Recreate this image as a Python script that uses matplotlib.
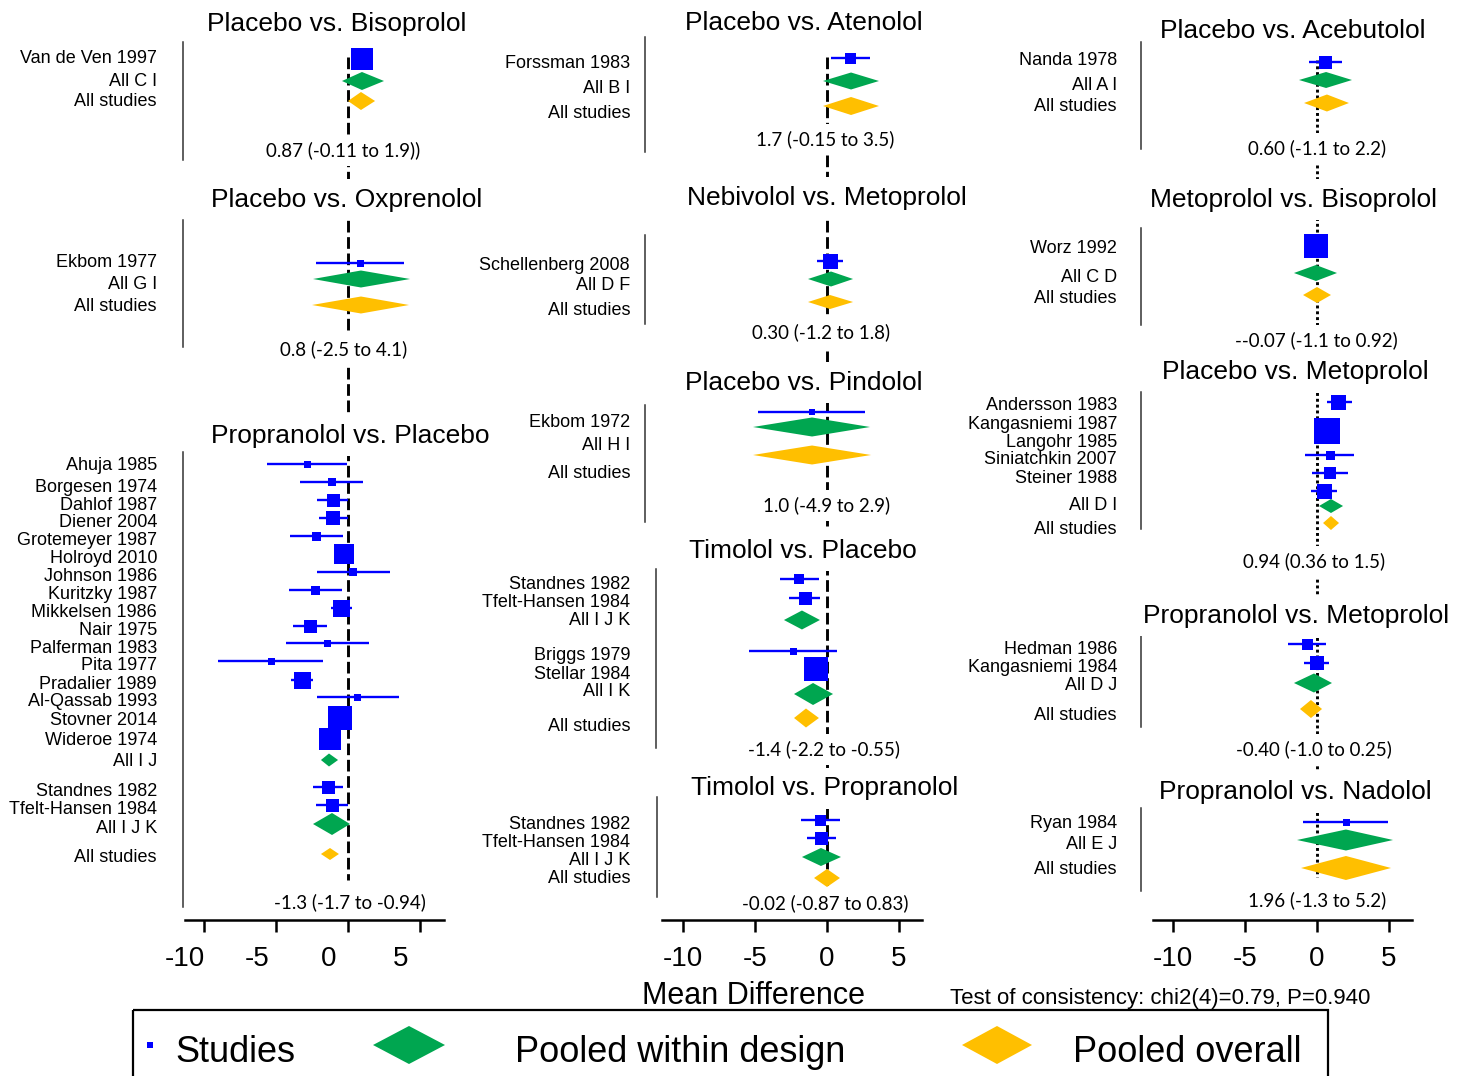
import matplotlib
matplotlib.use('agg')
import matplotlib.pyplot as plt
from matplotlib.patches import Polygon, Rectangle

W, H = 1465, 1076
BLUE = '#0000ff'
GREEN = '#00a650'
GOLD = '#ffbf00'
SANS = 'Liberation Sans'
NUM = 'Lato'

# ---- data (mean differences and 95% CI) ----
bis_labels = ["Van de Ven 1997", "All C I", "All studies"]
bis_md = [0.97, 0.97, 0.90]
bis_lo = [0.35, -0.42, 0.0]
bis_hi = [1.6, 2.5, 1.88]

oxp_labels = ["Ekbom 1977", "All G I", "All studies"]
oxp_md = [0.83, 0.9, 0.9]
oxp_lo = [-2.22, -2.43, -2.5]
oxp_hi = [3.89, 4.31, 4.24]

pro_labels = ["Ahuja 1985", "Borgesen 1974", "Dahlof 1987", "Diener 2004", "Grotemeyer 1987",
              "Holroyd 2010", "Johnson 1986", "Kuritzky 1987", "Mikkelsen 1986", "Nair 1975",
              "Palferman 1983", "Pita 1977", "Pradalier 1989", "Al-Qassab 1993", "Stovner 2014",
              "Wideroe 1974", "All I J", "Standnes 1982", "Tfelt-Hansen 1984", "All I J K", "All studies"]
pro_md = [-2.85, -1.11, -1.04, -1.04, -2.22, -0.28, 0.35, -2.29, -0.49, -2.64, -1.46, -5.35,
          -3.19, 0.63, -0.56, -1.25, -1.32, -1.39, -1.11, -1.11, -1.25]
pro_lo = [-5.63, -3.33, -2.15, -2.01, -4.03, -0.9, -2.15, -4.1, -1.18, -3.82, -4.31, -9.03,
          -3.96, -2.15, -1.3, -2.0, -1.88, -2.43, -2.22, -2.43, -1.88]
pro_hi = [-0.07, 1.04, 0.0, 0.0, -0.35, 0.42, 2.92, -0.42, 0.28, -1.46, 1.46, -1.74,
          -2.43, 3.54, 0.2, -0.5, -0.69, -0.35, 0.0, 0.14, -0.63]

ate_labels = ["Forssman 1983", "All B I", "All studies"]
ate_md = [1.6, 1.67, 1.67]
ate_lo = [0.28, -0.28, -0.28]
ate_hi = [2.99, 3.61, 3.61]

neb_labels = ["Schellenberg 2008", "All D F", "All studies"]
neb_md = [0.21, 0.28, 0.21]
neb_lo = [-0.69, -1.32, -1.32]
neb_hi = [1.11, 1.81, 1.81]

pin_labels = ["Ekbom 1972", "All H I", "All studies"]
pin_md = [-1.04, -1.04, -1.04]
pin_lo = [-4.79, -5.14, -5.14]
pin_hi = [2.64, 2.99, 3.06]

tip_labels = ["Standnes 1982", "Tfelt-Hansen 1984", "All I J K", "Briggs 1979", "Stellar 1984",
              "All I K", "All studies"]
tip_md = [-1.94, -1.53, -1.74, -2.36, -0.76, -0.97, -1.46]
tip_lo = [-3.26, -2.64, -2.99, -5.42, -1.4, -2.29, -2.29]
tip_hi = [-0.56, -0.49, -0.49, 0.69, -0.1, 0.42, -0.56]

tpr_labels = ["Standnes 1982", "Tfelt-Hansen 1984", "All I J K", "All studies"]
tpr_md = [-0.49, -0.42, -0.42, 0.0]
tpr_lo = [-1.81, -1.39, -1.74, -0.9]
tpr_hi = [0.9, 0.63, 0.97, 0.9]

ace_labels = ["Nanda 1978", "All A I", "All studies"]
ace_md = [0.56, 0.63, 0.69]
ace_lo = [-0.56, -1.25, -0.9]
ace_hi = [1.74, 2.43, 2.22]

mbi_labels = ["Worz 1992", "All C D", "All studies"]
mbi_md = [-0.07, -0.07, 0.0]
mbi_lo = [-0.7, -1.6, -0.97]
mbi_hi = [0.6, 1.39, 0.97]

pme_labels = ["Andersson 1983", "Kangasniemi 1987", "Langohr 1985", "Siniatchkin 2007",
              "Steiner 1988", "All D I", "All studies"]
pme_md = [1.46, 0.69, 0.9, 0.9, 0.49, 0.97, 0.97]
pme_lo = [0.69, 0.0, -0.83, -0.35, -0.42, 0.14, 0.42]
pme_hi = [2.43, 1.4, 2.57, 2.15, 1.39, 1.81, 1.53]

prm_labels = ["Hedman 1986", "Kangasniemi 1984", "All D J", "All studies"]
prm_md = [-0.69, 0.0, -0.21, -0.42]
prm_lo = [-2.01, -0.9, -1.6, -1.18]
prm_hi = [0.63, 0.83, 1.04, 0.35]

nad_labels = ["Ryan 1984", "All E J", "All studies"]
nad_md = [2.01, 2.01, 2.01]
nad_lo = [-0.97, -1.39, -1.11]
nad_hi = [4.93, 5.28, 5.14]

titles = ["Placebo vs. Bisoprolol", "Placebo vs. Oxprenolol", "Propranolol vs. Placebo",
          "Placebo vs. Atenolol", "Nebivolol vs. Metoprolol", "Placebo vs. Pindolol",
          "Timolol vs. Placebo", "Timolol vs. Propranolol",
          "Placebo vs. Acebutolol", "Metoprolol vs. Bisoprolol", "Placebo vs. Metoprolol",
          "Propranolol vs. Metoprolol", "Propranolol vs. Nadolol"]
summaries = ["0.87 (-0.11 to 1.9))", "0.8 (-2.5 to 4.1)", "-1.3 (-1.7 to -0.94)",
             "1.7 (-0.15 to 3.5)", "0.30 (-1.2 to 1.8)", "1.0 (-4.9 to 2.9)",
             "-1.4 (-2.2 to -0.55)", "-0.02 (-0.87 to 0.83)",
             "0.60 (-1.1 to 2.2)", "--0.07 (-1.1 to 0.92)", "0.94 (0.36 to 1.5)",
             "-0.40 (-1.0 to 0.25)", "1.96 (-1.3 to 5.2)"]
tick_vals = [-10, -5, 0, 5]

# ---- layout (pixels from top-left) ----
cols = [
    dict(x0=185, x1=444, zero=348, lab=157, ref=(57, 880), ls=(0, (4, 1.6)), shift=-19),
    dict(x0=662, x1=922, zero=827, lab=630, ref=(57, 890), ls=(0, (4, 1.6)), shift=0),
    dict(x0=1153, x1=1412, zero=1317, lab=1117, ref=(60, 877), ls=(0, (1, 1)), shift=0),
]
SCALE = 14.4
AXIS_Y = 920
TY = 2.5  # text baseline nudge

# per panel: column, arrays, mark y, label y, sizes, title xy, summary xy, divider (x, y0, y1)
panels = [
    (0, bis_labels, bis_md, bis_lo, bis_hi, [59, 81, 101], [56, 79, 99], [22, 18, 18],
     (337, 21), (343, 148), (183, 42, 160)),
    (0, oxp_labels, oxp_md, oxp_lo, oxp_hi, [263, 279, 305], [260, 282, 304], [7, 17, 17],
     (347, 197), (344, 347), (183, 220, 347)),
    (0, pro_labels, pro_md, pro_lo, pro_hi,
     [464, 482, 500, 518, 536, 554, 572, 590, 608, 626, 643, 661, 680, 697, 718, 739, 760, 787, 805, 824, 854],
     [463, 485, 503, 520, 538, 556, 574, 592, 610, 628, 646, 663, 682, 699, 718, 738, 759, 789, 807, 826, 855],
     [7, 8, 13, 14, 9, 20, 8, 9, 17, 13, 7, 7, 17, 7, 24, 23, 13, 13, 13, 22, 12],
     (350, 433), (350, 900), (183, 452, 907)),
    (1, ate_labels, ate_md, ate_lo, ate_hi, [58, 81, 106], [61, 86, 111], [11, 17, 18],
     (804, 20), (825, 137), (645, 37, 152)),
    (1, neb_labels, neb_md, neb_lo, neb_hi, [261, 279, 302], [263, 283, 308], [15, 15, 14],
     (827, 195), (821, 330), (645, 235, 324)),
    (1, pin_labels, pin_md, pin_lo, pin_hi, [412, 427, 455], [420, 443, 471], [6, 19, 19],
     (804, 380), (827, 503), (645, 405, 522)),
    (1, tip_labels, tip_md, tip_lo, tip_hi, [579, 598, 620, 651, 669, 694, 718],
     [582, 600, 618, 653, 672, 689, 724], [10, 13, 19, 7, 24, 22, 19],
     (803, 548), (824, 747), (656, 569, 748)),
    (1, tpr_labels, tpr_md, tpr_lo, tpr_hi, [820, 838, 857, 878], [822, 840, 858, 876], [11, 13, 18, 18],
     (825, 786), (825, 901), (657, 797, 897)),
    (2, ace_labels, ace_md, ace_lo, ace_hi, [62, 80, 103], [58, 83, 104], [13, 16, 17],
     (1293, 28), (1317, 146), (1141, 42, 149)),
    (2, mbi_labels, mbi_md, mbi_lo, mbi_hi, [246, 273, 295], [246, 275, 296], [24, 16, 16],
     (1294, 197), (1316, 338), (1141, 228, 325)),
    (2, pme_labels, pme_md, pme_lo, pme_hi, [402, 431, 455, 473, 491, 506, 523],
     [403, 422, 440, 457, 476, 503, 527], [15, 27, 9, 12, 15, 14, 14],
     (1295, 370), (1314, 559), (1141, 392, 529)),
    (2, prm_labels, prm_md, prm_lo, prm_hi, [644, 663, 683, 709], [647, 665, 683, 713], [11, 14, 19, 18],
     (1296, 613), (1314, 747), (1141, 627, 727)),
    (2, nad_labels, nad_md, nad_lo, nad_hi, [822, 840, 868], [821, 842, 867], [7, 21, 24],
     (1295, 790), (1317, 898), (1141, 808, 891)),
]

fig = plt.figure(figsize=(W / 100, H / 100), dpi=100, facecolor='white')

col_axes = []
for c in cols:
    ax = fig.add_axes([c['x0'] / W, (H - AXIS_Y) / H, (c['x1'] - c['x0']) / W, AXIS_Y / H])
    ax.set_xlim((c['x0'] - c['zero']) / SCALE, (c['x1'] - c['zero']) / SCALE)
    ax.set_ylim(AXIS_Y, 0)
    for s in ('top', 'left', 'right'):
        ax.spines[s].set_visible(False)
    ax.spines['bottom'].set_linewidth(1.8)
    ax.set_yticks([])
    ax.set_xticks(tick_vals)
    ax.set_xticklabels([])
    ax.tick_params(axis='x', length=8.6, width=1.8, direction='out')
    ax.patch.set_alpha(0)
    ax.plot([0, 0], c['ref'], color='black', lw=2.1, linestyle=c['ls'], zorder=1)
    col_axes.append(ax)

# overlay in pixel coordinates for text and frames
ov = fig.add_axes([0, 0, 1, 1], zorder=5)
ov.set_xlim(0, W)
ov.set_ylim(H, 0)
ov.axis('off')

for i, (ci, labels, md, lo, hi, ys, lys, sizes, txy, sxy, div) in enumerate(panels):
    ax = col_axes[ci]
    c = cols[ci]
    for lab, m, l, h, y, ly, sz in zip(labels, md, lo, hi, ys, lys, sizes):
        if lab.startswith("All "):
            color = GOLD if lab == "All studies" else GREEN
            ax.add_patch(Polygon([(l, y), (m, y - sz / 2), (h, y), (m, y + sz / 2)],
                                 closed=True, facecolor=color, edgecolor='none', zorder=3))
        else:
            ax.plot([l, h], [y, y], color=BLUE, lw=1.7, solid_capstyle='butt', zorder=3)
            ax.plot([m], [y], marker='s', color=BLUE, markersize=sz * 0.72,
                    markeredgewidth=0, zorder=4)
        ov.text(c['lab'], ly + TY, lab, ha='right', va='center', fontsize=13, family=SANS)
    ov.text(txy[0], txy[1] + TY, titles[i], ha='center', va='center', fontsize=19, family=SANS,
            bbox=dict(facecolor='white', edgecolor='none', pad=6))
    ov.text(sxy[0], sxy[1] + TY, summaries[i], ha='center', va='center', fontsize=13.5, family=NUM,
            bbox=dict(facecolor='white', edgecolor='none', pad=5))
    ov.plot([div[0], div[0]], [div[1], div[2]], color='#333333', lw=1.1)

# tick labels
for c in cols:
    for v in tick_vals:
        ov.text(c['zero'] + v * SCALE + c['shift'], 957 + TY, str(v), ha='center', va='center',
                fontsize=20, family=SANS)

ov.text(753, 993 + TY, "Mean Difference", ha='center', va='center', fontsize=22, family=SANS)
ov.text(950, 996 + TY, "Test of consistency: chi2(4)=0.79, P=0.940", ha='left', va='center',
        fontsize=16, family=SANS)

# legend
ov.add_patch(Rectangle((133, 1010), 1195, 80, facecolor='none', edgecolor='black', lw=1.6,
                       clip_on=False))
ov.plot([150], [1045], marker='s', color=BLUE, markersize=4, markeredgewidth=0)
ov.text(175, 1053, "Studies", ha='left', va='center', fontsize=26, family=SANS)
ov.add_patch(Polygon([(373, 1045), (409, 1026), (445, 1045), (409, 1064)], closed=True,
                     facecolor=GREEN, edgecolor='none'))
ov.text(515, 1053, "Pooled within design", ha='left', va='center', fontsize=26, family=SANS)
ov.add_patch(Polygon([(962, 1045), (997, 1026), (1032, 1045), (997, 1064)], closed=True,
                     facecolor=GOLD, edgecolor='none'))
ov.text(1073, 1053, "Pooled overall", ha='left', va='center', fontsize=26, family=SANS)

fig.savefig('out.png', dpi=100)
